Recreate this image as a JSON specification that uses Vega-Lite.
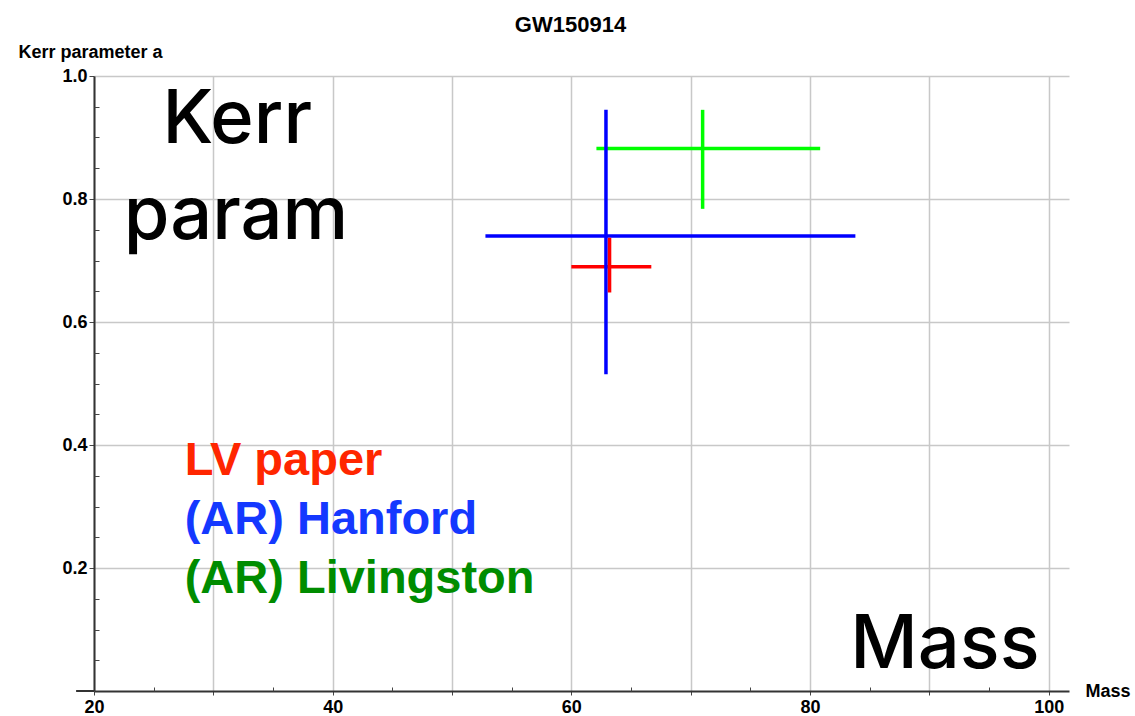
{
  "$schema": "https://vega.github.io/schema/vega-lite/v6.json",
  "width": 975,
  "height": 615,
  "autosize": "none",
  "padding": {"left": 94, "top": 76, "right": 66, "bottom": 25},
  "background": "white",
  "title": {
    "text": "GW150914",
    "font": "Liberation Sans",
    "fontSize": 22,
    "fontWeight": "bold",
    "color": "black",
    "anchor": "middle",
    "frame": "group",
    "baseline": "alphabetic",
    "dx": -11,
    "offset": -10
  },
  "config": {
    "view": {"stroke": null},
    "text": {"font": "Liberation Sans"}
  },
  "resolve": {"axis": {"x": "independent", "y": "independent"}},
  "datasets": {
    "measurements": [
      {"series": "(AR) Livingston", "mass": 71.0, "mass_lo": 62.1, "mass_hi": 80.85, "a": 0.882, "a_lo": 0.784, "a_hi": 0.945},
      {"series": "(AR) Hanford", "mass": 62.9, "mass_lo": 52.8, "mass_hi": 83.8, "a": 0.740, "a_lo": 0.515, "a_hi": 0.945},
      {"series": "LV paper", "mass": 63.2, "mass_lo": 60.0, "mass_hi": 66.7, "a": 0.690, "a_lo": 0.648, "a_hi": 0.737}
    ],
    "keys": [
      {"series": "LV paper", "mass": 27.6, "a": 0.352},
      {"series": "(AR) Hanford", "mass": 27.6, "a": 0.256},
      {"series": "(AR) Livingston", "mass": 27.6, "a": 0.160}
    ],
    "captions": [
      {"word": "Kerr", "mass": 32.0, "a": 0.8915},
      {"word": "param", "mass": 31.9, "a": 0.735},
      {"word": "Mass", "mass": 91.3, "a": 0.0377}
    ],
    "axis_stub": [
      {"from": 18.5, "to": 20, "a": 0}
    ]
  },
  "layer": [
    {
      "data": {"name": "axis_stub"},
      "mark": {"type": "rule", "color": "#333333", "strokeWidth": 2},
      "encoding": {
        "x": {"field": "from", "type": "quantitative", "axis": null},
        "x2": {"field": "to"},
        "y": {"field": "a", "type": "quantitative", "axis": null}
      }
    },
    {
      "data": {"name": "measurements"},
      "mark": {"type": "rule", "strokeWidth": 3.5},
      "encoding": {
        "x": {
          "field": "mass_lo",
          "type": "quantitative",
          "title": "Mass",
          "scale": {"domain": [20, 101.7], "nice": false, "zero": false},
          "axis": {
            "orient": "bottom",
            "values": [20, 30, 40, 50, 60, 70, 80, 90, 100],
            "labelExpr": "datum.value % 20 === 0 ? datum.label : ''",
            "format": "d",
            "labelFont": "Liberation Sans",
            "labelFontSize": 18,
            "labelFontWeight": "bold",
            "labelColor": "black",
            "labelPadding": 3,
            "labelFlush": false,
            "labelOverlap": false,
            "tickSize": 4,
            "tickColor": "#444444",
            "tickWidth": 1,
            "domainColor": "#333333",
            "domainWidth": 2,
            "grid": true,
            "gridColor": "#c8c8c8",
            "gridWidth": 1.5,
            "titleFont": "Liberation Sans",
            "titleFontSize": 18,
            "titleFontWeight": "bold",
            "titleColor": "black",
            "titleAlign": "left",
            "titleBaseline": "alphabetic",
            "titleX": 991,
            "titleY": 5.5
          }
        },
        "x2": {"field": "mass_hi"},
        "y": {
          "field": "a",
          "type": "quantitative",
          "title": "Kerr parameter a",
          "scale": {"domain": [0, 1], "nice": false, "zero": false},
          "axis": {
            "orient": "left",
            "values": [0.2, 0.4, 0.6, 0.8, 1.0],
            "format": ".1f",
            "labelFont": "Liberation Sans",
            "labelFontSize": 18,
            "labelFontWeight": "bold",
            "labelColor": "black",
            "labelPadding": 2,
            "labelFlush": false,
            "labelOverlap": false,
            "tickSize": 5,
            "tickColor": "#444444",
            "tickWidth": 1,
            "domainColor": "#333333",
            "domainWidth": 2,
            "grid": true,
            "gridColor": "#c8c8c8",
            "gridWidth": 1.5,
            "titleFont": "Liberation Sans",
            "titleFontSize": 18,
            "titleFontWeight": "bold",
            "titleColor": "black",
            "titleAngle": 0,
            "titleAlign": "left",
            "titleBaseline": "alphabetic",
            "titleX": -76,
            "titleY": -18.5
          }
        },
        "stroke": {
          "field": "series",
          "type": "nominal",
          "scale": {"domain": ["LV paper", "(AR) Hanford", "(AR) Livingston"], "range": ["#ff0000", "#0000ff", "#00ff00"]},
          "legend": null
        }
      }
    },
    {
      "data": {"name": "measurements"},
      "mark": {"type": "rule", "strokeWidth": 3.5},
      "encoding": {
        "x": {"field": "mass", "type": "quantitative", "axis": null},
        "y": {"field": "a_lo", "type": "quantitative", "axis": null},
        "y2": {"field": "a_hi"},
        "stroke": {"field": "series", "type": "nominal", "legend": null}
      }
    },
    {
      "data": {"name": "keys"},
      "mark": {"type": "text", "align": "left", "baseline": "alphabetic", "fontSize": 47, "fontWeight": "bold"},
      "encoding": {
        "x": {"field": "mass", "type": "quantitative", "axis": null},
        "y": {"field": "a", "type": "quantitative", "axis": null},
        "text": {"field": "series"},
        "fill": {
          "field": "series",
          "type": "nominal",
          "scale": {"domain": ["LV paper", "(AR) Hanford", "(AR) Livingston"], "range": ["#ff2600", "#1438ff", "#008c00"]},
          "legend": null
        }
      }
    },
    {
      "data": {"name": "captions"},
      "mark": {"type": "text", "align": "center", "baseline": "alphabetic", "font": "Inter", "fontSize": 74, "fontWeight": 500, "color": "black"},
      "encoding": {
        "x": {
          "field": "mass",
          "type": "quantitative",
          "axis": {
            "orient": "bottom",
            "values": [25, 35, 45, 55, 65, 75, 85, 95],
            "labels": false,
            "grid": false,
            "domain": false,
            "title": null,
            "tickSize": -4,
            "tickColor": "#444444",
            "tickWidth": 1
          }
        },
        "y": {
          "field": "a",
          "type": "quantitative",
          "axis": {
            "orient": "left",
            "values": [0.05, 0.1, 0.15, 0.25, 0.3, 0.35, 0.45, 0.5, 0.55, 0.65, 0.7, 0.75, 0.85, 0.9, 0.95],
            "labels": false,
            "grid": false,
            "domain": false,
            "title": null,
            "tickSize": -5,
            "tickColor": "#444444",
            "tickWidth": 1
          }
        },
        "text": {"field": "word"}
      }
    }
  ]
}
